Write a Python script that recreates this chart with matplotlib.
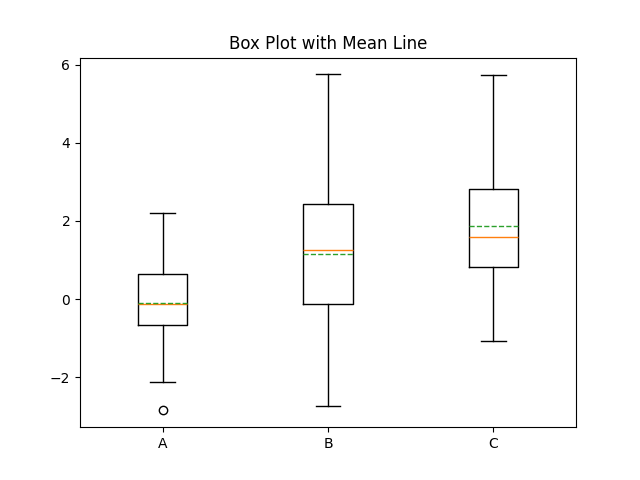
import matplotlib
matplotlib.use("Agg")
import matplotlib.pyplot as plt

labels = ["A", "B", "C"]
whislo = [-2.13, -2.74, -1.08]
q1 = [-0.67, -0.13, 0.82]
med = [-0.13, 1.25, 1.58]
mean = [-0.095, 1.16, 1.86]
q3 = [0.64, 2.44, 2.82]
whishi = [2.20, 5.75, 5.73]
fliers = [[-2.85], [], []]

stats = []
for i in range(len(labels)):
    stats.append(dict(label=labels[i], whislo=whislo[i], q1=q1[i], med=med[i],
                      mean=mean[i], q3=q3[i], whishi=whishi[i], fliers=fliers[i]))

fig, ax = plt.subplots(figsize=(6.4, 4.8), dpi=100)
ax.bxp(stats, showmeans=True, meanline=True)
ax.set_title("Box Plot with Mean Line")
fig.savefig("out.png")
